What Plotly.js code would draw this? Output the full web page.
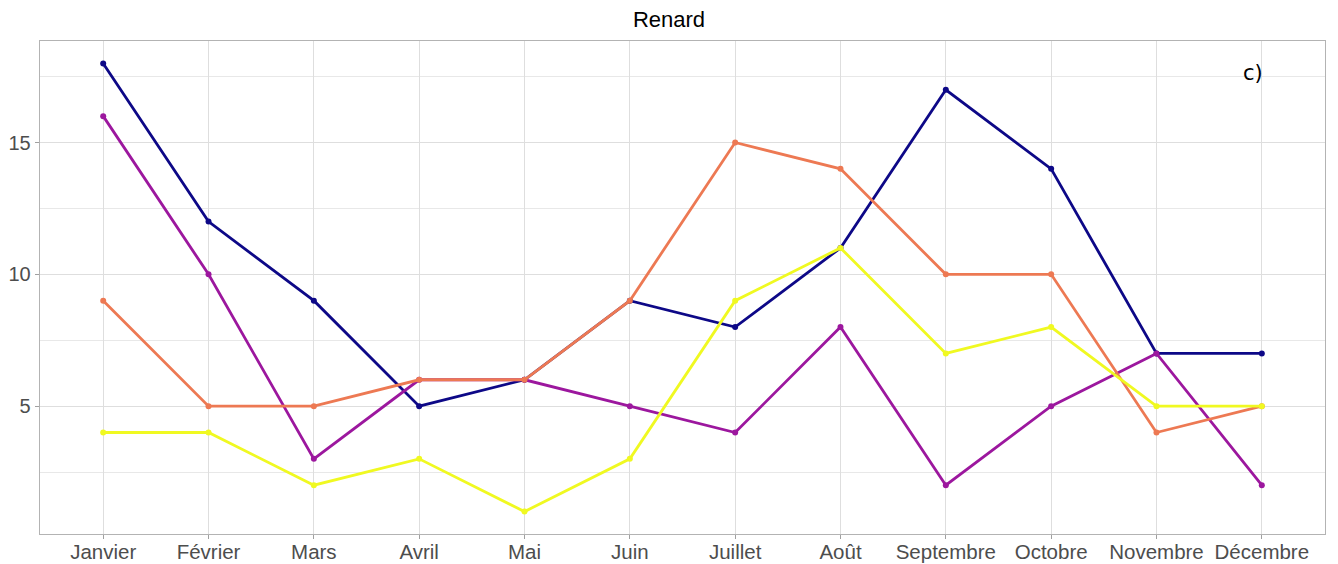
<!DOCTYPE html>
<html>
<head>
<meta charset="utf-8">
<script src="https://cdn.plot.ly/plotly-3.0.1.min.js"></script>
<style>html,body{margin:0;padding:0;background:#fff;}#chart{width:1338px;height:564px;}</style>
</head>
<body>
<div id="chart"></div>
<script>
const months = ["Janvier","Février","Mars","Avril","Mai","Juin","Juillet","Août","Septembre","Octobre","Novembre","Décembre"];
const serie1 = [18, 12, 9, 5, 6, 9, 8, 11, 17, 14, 7, 7];
const serie2 = [16, 10, 3, 6, 6, 5, 4, 8, 2, 5, 7, 2];
const serie3 = [9, 5, 5, 6, 6, 9, 15, 14, 10, 10, 4, 5];
const serie4 = [4, 4, 2, 3, 1, 3, 9, 11, 7, 8, 5, 5];
const seriesNames = ["1", "2", "3", "4"];
const colors = ["#0D0887", "#9C179E", "#ED7953", "#F0F921"];
const yTicks = [5, 10, 15];
const yMinor = [2.5, 7.5, 12.5, 17.5];

const allSeries = [serie1, serie2, serie3, serie4];
const traces = allSeries.map((s, i) => ({
  x: months, y: s, type: "scatter", mode: "lines+markers", name: seriesNames[i],
  line: {color: colors[i], width: 2.8}, marker: {color: colors[i], size: 6},
  showlegend: false, hoverinfo: "x+y"
}));

const layout = {
  width: 1338, height: 564,
  margin: {l: 40, r: 13, t: 41, b: 30},
  paper_bgcolor: "#fff", plot_bgcolor: "#fff",
  title: {text: "Renard", x: 0.5, xanchor: "center", y: 0.965, yanchor: "middle",
          font: {family: "Liberation Sans, Arial, sans-serif", size: 22, color: "#000"}},
  font: {family: "Liberation Sans, Arial, sans-serif"},
  xaxis: {
    type: "category", range: [-0.6, 11.6], showgrid: true, gridcolor: "#dedede", gridwidth: 1.2,
    ticks: "outside", ticklen: 4, tickcolor: "#a0a0a0", tickwidth: 1, ticklabelstandoff: -5,
    tickfont: {size: 20.5, color: "#4d4d4d"}, showline: true, linecolor: "#b3b3b3", linewidth: 1.3, mirror: true,
    zeroline: false, fixedrange: true
  },
  yaxis: {
    range: [0.15, 18.85], tickvals: yTicks, ticktext: yTicks.map(String),
    showgrid: true, gridcolor: "#dedede", gridwidth: 1.2,
    minor: {tickvals: yMinor, showgrid: true, gridcolor: "#e8e8e8", gridwidth: 1, ticks: ""},
    ticks: "outside", ticklen: 4, tickcolor: "#a0a0a0", tickwidth: 1,
    tickfont: {size: 20, color: "#4d4d4d"}, showline: true, linecolor: "#b3b3b3", linewidth: 1.3, mirror: true,
    zeroline: false, fixedrange: true
  },
  annotations: [{
    text: "c)", xref: "paper", yref: "paper", x: 0.944, y: 0.935, xanchor: "center", yanchor: "middle",
    showarrow: false, font: {family: "DejaVu Sans, sans-serif", size: 21, color: "#000"}
  }]
};

Plotly.newPlot("chart", traces, layout, {displayModeBar: false, staticPlot: true});
</script>
</body>
</html>
